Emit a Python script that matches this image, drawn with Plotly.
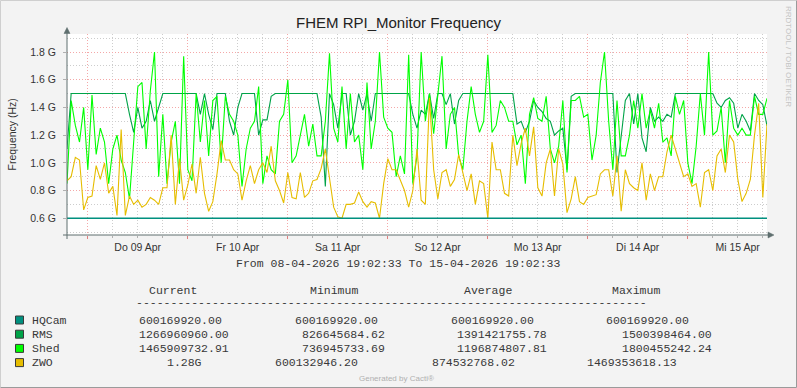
import plotly.graph_objects as go
import pandas as pd

# ---------------- data (values in G = 1e9 Hz, hourly samples) ----------------
start = pd.Timestamp("2026-04-08 19:02:33")
end = pd.Timestamp("2026-04-15 19:02:33")
n_samples = 169

hqcam = [0.60016992] * n_samples

rms = [
    1.1, 1.5, 1.5, 1.5, 1.5, 1.5, 1.5, 1.5, 1.5, 1.5,
    1.5, 1.5, 1.5, 1.5, 1.5, 1.35, 1.22, 1.4, 1.25, 1.3,
    1.45, 1.3, 1.4, 1.5, 1.5, 1.5, 1.5, 1.5, 1.5, 1.5,
    1.5, 1.5, 1.35, 1.5,
    1.35, 1.24, 1.5, 1.5, 1.5, 1.3, 1.2, 1.4, 1.5, 1.5,
    1.5, 1.5, 1.2, 1.31, 1.31, 1.48, 1.5, 1.5, 1.5, 1.5,
    1.5, 1.5, 1.5, 1.5, 1.5, 1.5, 1.5, 1.33, 0.83, 1.5,
    1.42, 1.25, 1.5, 1.5,
    1.2, 1.3, 1.5, 1.38, 1.5, 1.3, 1.5, 1.5, 1.5, 1.5,
    1.5, 1.5, 1.5, 1.5, 1.5, 1.35, 1.25, 1.38, 1.35, 1.5,
    1.32, 1.5, 1.5, 1.42, 1.5, 1.28, 1.45, 1.5, 1.5, 1.5,
    1.5, 1.5, 1.5,
    1.5, 1.5, 1.5, 1.5, 1.5, 1.5, 1.5, 1.28, 1.3, 1.22,
    1.3, 1.45, 1.4, 1.37, 1.32, 1.3, 1.2, 1.23, 1.25, 0.95,
    1.48, 1.5, 1.5, 1.5, 1.5, 1.5, 1.5, 1.5, 1.5, 1.5,
    1.5, 0.93, 1.2, 1.45,
    1.5, 1.28, 1.5, 1.18, 1.08, 1.4, 1.3, 1.33, 1.3, 1.35,
    1.33, 1.5, 1.5, 1.5, 1.5, 1.5, 1.5, 1.5, 1.5, 1.5,
    1.5, 1.43, 1.4, 1.45, 1.47, 1.43, 1.25, 1.35, 1.3, 1.23,
    1.5, 1.45, 1.42, 1.267,
]

shed = [
    0.85, 1.45, 1.27, 1.15, 1.4, 0.95, 1.49, 1.06, 1.25, 1.15,
    0.85, 1.1, 1.2, 1.02, 0.93, 0.74, 1.15, 1.55, 1.58, 1.1,
    1.52, 1.8, 0.9, 1.35, 0.85, 1.15, 1.3, 0.85, 1.77, 0.95,
    0.87, 1.5, 1.15, 1.45,
    1.05, 1.45, 1.48, 1.0, 1.48, 1.35, 1.3, 1.2, 0.83, 1.1,
    1.25, 1.3, 1.55, 0.85, 1.05, 0.95, 0.92, 1.3, 1.35, 1.6,
    1.0, 1.05, 1.2, 1.35, 1.12, 1.28, 1.05, 1.05, 1.3, 1.79,
    1.25, 1.15, 1.55, 1.1,
    1.5, 1.15, 1.2, 0.95, 1.58, 1.1, 1.3, 1.8, 1.33, 1.25,
    1.22, 0.9, 1.05, 0.92, 1.78, 0.85, 1.05, 1.8, 1.3, 1.5,
    1.21, 1.5, 1.77, 1.1, 1.35, 1.4, 1.05, 0.95, 1.3, 1.55,
    1.35, 1.22, 1.3,
    1.78, 1.22, 1.27, 1.45, 1.4, 1.3, 1.3, 1.13, 1.2, 0.85,
    1.35, 1.47, 1.32, 1.3, 1.48, 1.1, 1.0, 1.12, 1.45, 0.93,
    1.45, 1.45, 1.48, 1.33, 1.35, 1.02, 1.2, 1.58, 1.8, 1.3,
    0.95, 1.45, 1.05, 1.05,
    1.2, 1.45, 1.25, 1.5, 1.25, 1.38, 1.25, 1.43, 1.15, 1.18,
    1.05, 1.48, 1.35, 1.45, 1.0, 0.85, 1.12, 1.5, 1.2, 1.8,
    1.2, 1.23, 1.4, 1.0, 1.45, 1.25, 1.2, 1.25, 1.2, 1.2,
    1.48, 1.35, 1.35, 1.466,
]

zwo = [
    0.87, 0.9, 1.04, 1.02, 0.66, 0.75, 0.76, 0.98, 0.88, 1.0,
    0.78, 0.83, 0.62, 1.24, 0.62, 0.76, 0.7, 0.73, 0.68, 0.7,
    0.75, 0.73, 0.7, 0.82, 0.82, 1.2, 0.7, 1.03, 0.73, 0.84,
    0.99, 0.78, 1.04, 0.78,
    0.65, 0.72, 0.92, 1.16, 1.02, 1.02, 0.95, 0.92, 0.73, 0.87,
    0.98, 0.85, 0.95, 1.0, 0.93, 1.12, 0.87, 0.8, 0.71, 0.93,
    0.75, 0.74, 0.93, 0.75, 0.78, 0.87, 0.88, 0.96, 1.1, 0.88,
    0.68, 0.61, 0.6, 0.7,
    0.7, 0.71, 0.79, 0.72, 0.68, 0.72, 0.71, 0.6, 0.85, 1.03,
    0.95, 0.95, 0.87, 0.8, 0.68, 0.8, 1.1, 0.73, 0.7, 1.47,
    0.95, 0.74, 0.93, 0.95, 0.83, 0.88, 1.06, 0.92, 0.8, 0.92,
    0.7, 0.87, 0.85,
    0.6, 1.15, 0.95, 0.95, 0.78, 0.76, 1.2, 0.98, 1.14, 1.25,
    1.05, 1.26, 0.82, 0.76, 1.0, 1.1, 0.76, 1.1, 0.99, 0.64,
    0.74, 0.9, 0.72, 0.7, 0.75, 0.76, 0.77, 0.92, 0.95, 0.95,
    0.76, 1.05, 0.65, 0.95,
    0.85, 0.82, 0.8, 1.0, 0.73, 0.92, 0.8, 0.9, 0.9, 1.08,
    1.2, 1.1, 1.0, 0.9, 0.92, 0.83, 0.85, 0.68, 0.93, 0.95,
    0.8, 1.05, 1.1, 0.93, 1.2, 1.15, 0.88, 0.72, 0.78, 0.88,
    1.2, 1.43, 0.75, 1.28,
]

series_names = ["HQCam", "RMS", "Shed", "ZWO"]
series_colors = ["#00907F", "#00A348", "#00FF00", "#E6BD00"]

y_tickvals = [0.6, 0.8, 1.0, 1.2, 1.4, 1.6, 1.8]
y_ticktext = ["0.6 G", "0.8 G", "1.0 G", "1.2 G", "1.4 G", "1.6 G", "1.8 G"]
day_labels = ["Do 09 Apr", "Fr 10 Apr", "Sa 11 Apr", "So 12 Apr",
              "Mo 13 Apr", "Di 14 Apr", "Mi 15 Apr"]

stat_headers = ["Current", "Minimum", "Average", "Maximum"]
stat_rows = {
    "HQCam": ["600169920.00", "600169920.00", "600169920.00", "600169920.00"],
    "RMS": ["1266960960.00", "826645684.62", "1391421755.78", "1500398464.00"],
    "Shed": ["1465909732.91", "736945733.69", "1196874807.81", "1800455242.24"],
    "ZWO": ["1.28G", "600132946.20", "874532768.02", "1469353618.13"],
}

# ---------------- layout helpers ----------------
W, H = 797, 388
L, R, T, B = 67, 767, 34, 235


def px(x):
    return (x - L) / (R - L)


def py(y):
    return (B - y) / (B - T)


times = [start + pd.Timedelta(hours=i) for i in range(n_samples)]
noon_ticks = list(pd.date_range("2026-04-09 12:00", periods=len(day_labels), freq="D"))

MONO = "Liberation Mono, Courier New, monospace"
SANS = "Liberation Sans, Arial, sans-serif"
TXT = "#383838"

fig = go.Figure()
all_series = [hqcam, rms, shed, zwo]
for i, (name, vals, col) in enumerate(zip(series_names, all_series, series_colors)):
    fig.add_trace(go.Scatter(
        x=times, y=vals, mode="lines", name=name,
        line=dict(color=col, width=1.1 if i > 0 else 1.5),
        xaxis="x2" if i == 0 else "x",
        showlegend=False, hoverinfo="skip",
    ))

annotations = []
annotations.append(dict(text="FHEM RPI_Monitor Frequency", x=px(398.5), y=py(22),
                        xref="paper", yref="paper", showarrow=False,
                        font=dict(family=SANS, size=15, color="#222222"),
                        xanchor="center", yanchor="middle"))
annotations.append(dict(text="Frequency (Hz)", x=px(11), y=py(134.5),
                        xref="paper", yref="paper", showarrow=False, textangle=-90,
                        font=dict(family=SANS, size=10.5, color="#333333"),
                        xanchor="center", yanchor="middle"))
annotations.append(dict(text="RRDTOOL / TOBI OETIKER", x=px(788), y=py(56),
                        xref="paper", yref="paper", showarrow=False, textangle=90,
                        font=dict(family=SANS, size=8, color="#c4c4c4"),
                        xanchor="center", yanchor="middle"))
annotations.append(dict(text="From 08-04-2026 19:02:33 To 15-04-2026 19:02:33",
                        x=px(398), y=py(263), xref="paper", yref="paper", showarrow=False,
                        font=dict(family=MONO, size=11.5, color=TXT),
                        xanchor="center", yanchor="middle"))
header_x = [173, 334, 488, 636]
for hx, ht in zip(header_x, stat_headers):
    annotations.append(dict(text=ht, x=px(hx), y=py(290.5), xref="paper", yref="paper",
                            showarrow=False, font=dict(family=MONO, size=11.5, color=TXT),
                            xanchor="center", yanchor="middle"))
annotations.append(dict(text="-" * 74, x=px(134), y=py(302), xref="paper", yref="paper",
                        showarrow=False, font=dict(family=MONO, size=11.5, color=TXT),
                        xanchor="left", yanchor="middle"))

row_y = [320, 334.2, 348.4, 362.6]
col_x = {
    "HQCam": [137, 292.5, 449.5, 603.5],
    "RMS": [137, 299.5, 455, 620],
    "Shed": [137, 299.5, 455, 620],
    "ZWO": [165, 272.5, 429.5, 585],
}
shapes = []
for name, ry, col in zip(series_names, row_y, series_colors):
    annotations.append(dict(text=name, x=px(29.5), y=py(ry), xref="paper", yref="paper",
                            showarrow=False, font=dict(family=MONO, size=11.5, color=TXT),
                            xanchor="left", yanchor="middle"))
    for cx, val in zip(col_x[name], stat_rows[name]):
        annotations.append(dict(text=val, x=px(cx), y=py(ry), xref="paper", yref="paper",
                                showarrow=False, font=dict(family=MONO, size=11.5, color=TXT),
                                xanchor="left", yanchor="middle"))
    shapes.append(dict(type="rect", xref="paper", yref="paper",
                       x0=px(15.5), x1=px(23.5), y0=py(ry + 4), y1=py(ry - 4),
                       fillcolor=col, line=dict(color="#3a3a3a", width=1)))

annotations.append(dict(text="Generated by Cacti®", x=px(396), y=py(378), xref="paper", yref="paper",
                        showarrow=False, font=dict(family=SANS, size=8, color="#b0b0b0"),
                        xanchor="center", yanchor="middle"))

AX = "#5f6f6f"
shapes.append(dict(type="line", xref="paper", yref="paper", x0=px(67), x1=px(67),
                   y0=py(239), y1=py(31), line=dict(color=AX, width=1)))
shapes.append(dict(type="line", xref="paper", yref="paper", x0=px(63), x1=px(770),
                   y0=py(235), y1=py(235), line=dict(color=AX, width=1)))
shapes.append(dict(type="path", xref="paper", yref="paper",
                   path=f"M {px(64)},{py(33.5)} L {px(70)},{py(33.5)} L {px(67)},{py(27.5)} Z",
                   fillcolor=AX, line=dict(color=AX, width=0.5)))
shapes.append(dict(type="path", xref="paper", yref="paper",
                   path=f"M {px(768)},{py(232)} L {px(768)},{py(238)} L {px(774)},{py(235)} Z",
                   fillcolor=AX, line=dict(color=AX, width=0.5)))
shapes.append(dict(type="line", xref="paper", yref="paper", x0=px(0.5), x1=px(796.5),
                   y0=py(0.5), y1=py(0.5), line=dict(color="#cfcfcf", width=1)))
shapes.append(dict(type="line", xref="paper", yref="paper", x0=px(0.5), x1=px(0.5),
                   y0=py(0.5), y1=py(387.5), line=dict(color="#cfcfcf", width=1)))
shapes.append(dict(type="line", xref="paper", yref="paper", x0=px(0.5), x1=px(796.5),
                   y0=py(387.5), y1=py(387.5), line=dict(color="#9a9a9a", width=1)))
shapes.append(dict(type="line", xref="paper", yref="paper", x0=px(796.5), x1=px(796.5),
                   y0=py(0.5), y1=py(387.5), line=dict(color="#9a9a9a", width=1)))

RED_GRID = "#f4a8a8"
GRAY_GRID = "#cdcdcd"
DOT = "1px,2px"

fig.update_layout(
    width=W, height=H, autosize=False,
    margin=dict(l=L, r=W - R, t=T, b=H - B, pad=0),
    paper_bgcolor="#f3f3f3", plot_bgcolor="#ffffff",
    showlegend=False,
    xaxis=dict(
        type="date", range=[start, end],
        tickmode="linear", tick0="2026-04-09 00:00:00", dtick=86400000,
        showticklabels=False, showgrid=True, gridcolor=RED_GRID, griddash=DOT, gridwidth=1,
        ticks="outside", ticklen=3, tickcolor="#e08080",
        minor=dict(tickmode="linear", tick0="2026-04-08 18:00:00", dtick=21600000,
                   showgrid=True, gridcolor=GRAY_GRID, griddash=DOT, gridwidth=1,
                   ticks="outside", ticklen=2, tickcolor="#b0b0b0"),
        showline=False, zeroline=False, fixedrange=True,
    ),
    xaxis2=dict(
        type="date", range=[start, end], overlaying="x", anchor="y", side="bottom",
        tickmode="array", tickvals=noon_ticks, ticktext=day_labels,
        showgrid=False, ticks="", ticklabelstandoff=4,
        tickfont=dict(family=SANS, size=10.5, color="#333333"),
        showline=False, zeroline=False,
    ),
    yaxis=dict(
        range=[0.479, 1.930], tickmode="array", tickvals=y_tickvals, ticktext=y_ticktext,
        showgrid=True, gridcolor=RED_GRID, griddash=DOT, gridwidth=1,
        minor=dict(tickmode="linear", tick0=0.0, dtick=0.1, showgrid=True,
                   gridcolor=GRAY_GRID, griddash=DOT, gridwidth=1),
        ticks="outside", ticklen=3, tickcolor="#b0b0b0", ticklabelstandoff=5,
        tickfont=dict(family=SANS, size=10.5, color="#333333"),
        showline=False, zeroline=False,
    ),
    annotations=annotations,
    shapes=shapes,
)

fig.write_html("out.html",
               config={"displayModeBar": False, "staticPlot": True},
               post_script="document.body.style.margin='0px';document.body.style.overflow='hidden';")
